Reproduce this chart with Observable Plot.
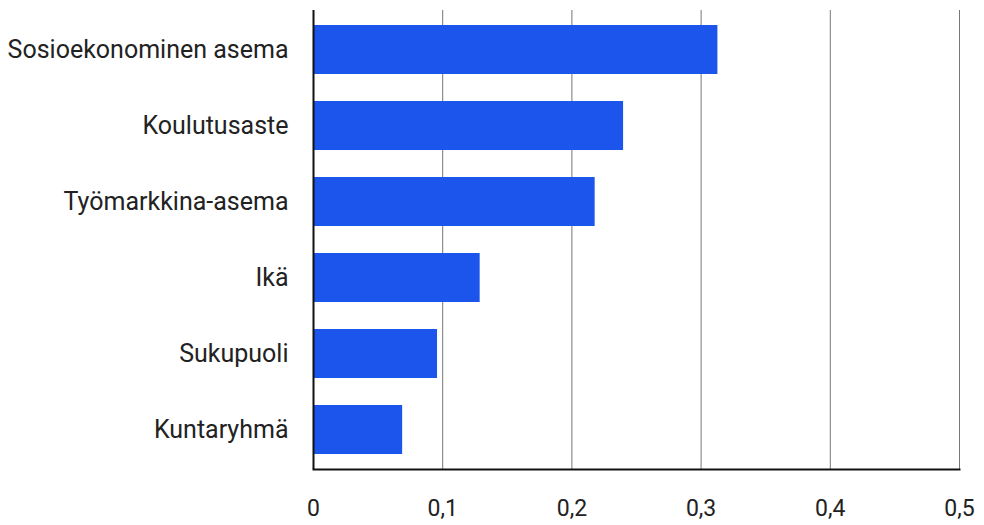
<!DOCTYPE html>
<html>
<head>
<meta charset="utf-8">
<script src="https://cdn.jsdelivr.net/npm/d3@7"></script>
<script src="https://cdn.jsdelivr.net/npm/@observablehq/plot@0.6"></script>
<style>
  html, body { margin: 0; padding: 0; background: #fff; }
  #chart { width: 984px; height: 525px; }
</style>
</head>
<body>
<div id="chart"></div>
<script>
const categories = ["Sosioekonominen asema", "Koulutusaste", "Työmarkkina-asema", "Ikä", "Sukupuoli", "Kuntaryhmä"];
const values = [0.313, 0.240, 0.218, 0.129, 0.096, 0.069];
const xTicks = [0, 0.1, 0.2, 0.3, 0.4, 0.5];

const data = categories.map((c, i) => ({category: c, value: values[i]}));
const fmt = d => String(d).replace(".", ",");

const chart = Plot.plot({
  width: 984,
  height: 525,
  marginLeft: 313,
  marginRight: 25,
  marginTop: 10,
  marginBottom: 56,
  style: {fontFamily: "Roboto", color: "#222", background: "#fff"},
  x: {domain: [0, 0.5], ticks: xTicks, tickFormat: fmt},
  y: {domain: categories, paddingInner: 0.35, paddingOuter: 0.17},
  marks: [
    Plot.gridX(xTicks.slice(1), {stroke: "#777", strokeOpacity: 1, strokeWidth: 1}),
    Plot.barX(data, {y: "category", x: "value", fill: "#1b55ec"}),
    Plot.ruleX([0], {stroke: "#111", strokeWidth: 2}),
    Plot.frame({anchor: "bottom", stroke: "#111", strokeWidth: 2}),
    Plot.axisX(xTicks, {tickSize: 0, tickPadding: 30, fontSize: 23, fill: "#222", label: null, tickFormat: fmt}),
    Plot.axisY({tickSize: 0, tickPadding: 25, fontSize: 25, fill: "#222", label: null})
  ]
});
document.getElementById("chart").appendChild(chart);
</script>
</body>
</html>
